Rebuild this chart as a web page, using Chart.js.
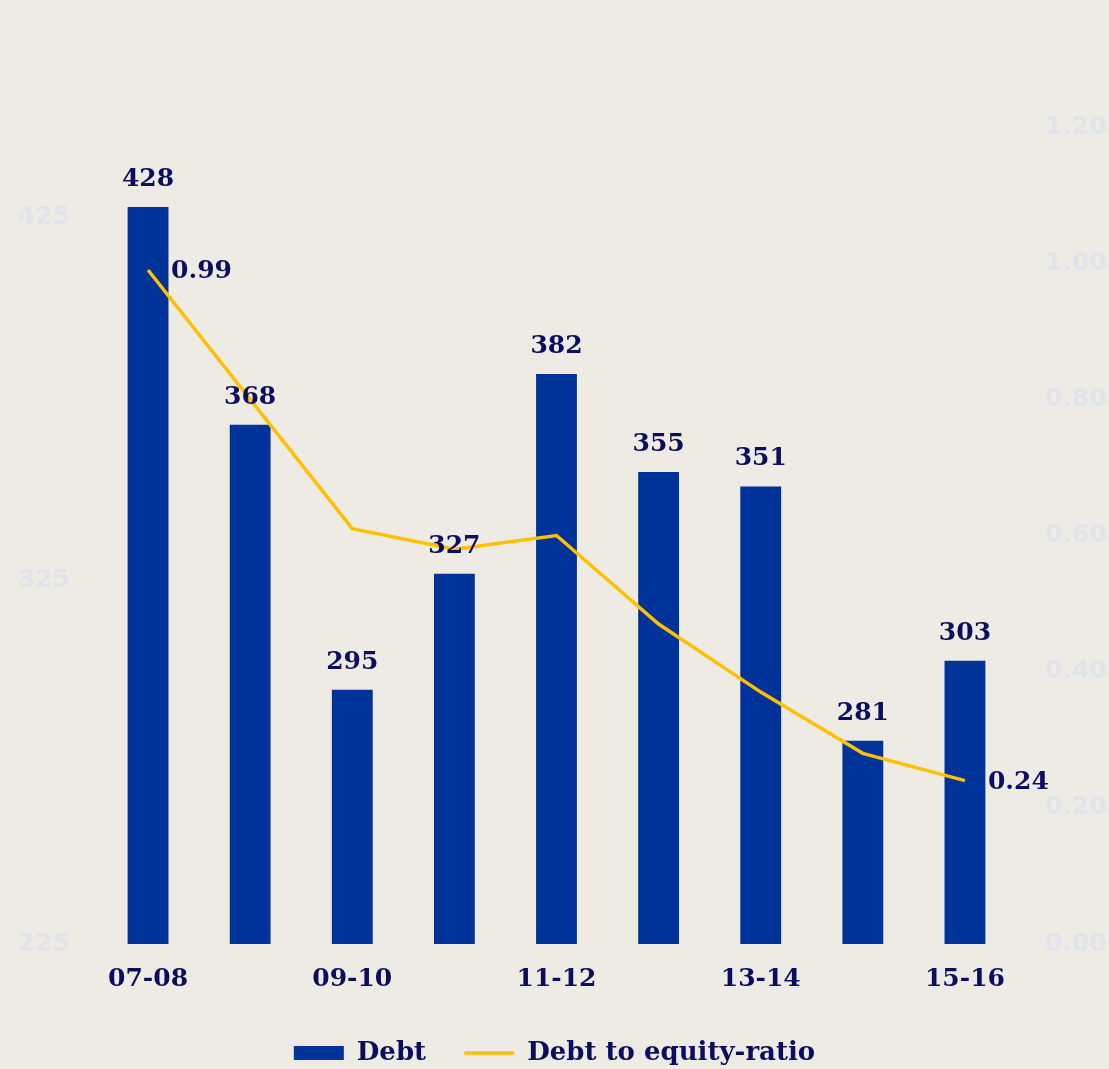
<!DOCTYPE html>
<html>
<head>
<meta charset="utf-8">
<script src="https://cdn.jsdelivr.net/npm/chart.js@4.4.1/dist/chart.umd.min.js"></script>
<style>
  html, body { margin: 0; padding: 0; background: #eeebe5; }
  #wrap { width: 1109px; height: 1069px; position: relative; }
</style>
</head>
<body>
<div id="wrap"><canvas id="grafico"></canvas></div>
<script>
// dados do gráfico
const anos = ["07-08", "08-09", "09-10", "10-11", "11-12", "12-13", "13-14", "14-15", "15-16"];
const divida = [428, 368, 295, 327, 382, 355, 351, 281, 303];
const razaoDividaPatrimonio = [0.99, 0.80, 0.61, 0.58, 0.60, 0.47, 0.37, 0.28, 0.24];
const ticksEsquerda = [225, 325, 425];
const ticksDireita = [0, 0.2, 0.4, 0.6, 0.8, 1.0, 1.2];

const azul = "#003399";
const amarelo = "#ffc000";
const marinho = "#0d0d5e";
const fonteSerif = "'DejaVu Serif', serif";

// rótulos de valor sobre as barras e nas pontas da linha
const rotulos = {
  id: "rotulos",
  afterDatasetsDraw(chart) {
    const ctx = chart.ctx;
    ctx.save();
    ctx.fillStyle = marinho;
    ctx.font = "bold 25px " + fonteSerif;

    const barras = chart.getDatasetMeta(0).data;
    ctx.textAlign = "center";
    ctx.textBaseline = "bottom";
    barras.forEach((barra, i) => {
      ctx.fillText(String(divida[i]), barra.x, barra.y - 15);
    });

    const pontos = chart.getDatasetMeta(1).data;
    ctx.textAlign = "left";
    ctx.textBaseline = "middle";
    [0, pontos.length - 1].forEach((i) => {
      ctx.fillText(razaoDividaPatrimonio[i].toFixed(2), pontos[i].x + 23, pontos[i].y + 2);
    });
    ctx.restore();
  },
};

const grafico = new Chart(document.getElementById("grafico"), {
  type: "bar",
  data: {
    labels: anos,
    datasets: [
      {
        label: "Debt",
        data: divida,
        backgroundColor: azul,
        barPercentage: 0.4,
        categoryPercentage: 1,
        yAxisID: "y",
        order: 2,
      },
      {
        type: "line",
        label: "Debt to equity-ratio",
        data: razaoDividaPatrimonio,
        borderColor: amarelo,
        borderWidth: 3.5,
        pointRadius: 0,
        tension: 0,
        yAxisID: "y1",
        order: 1,
      },
    ],
  },
  options: {
    responsive: true,
    maintainAspectRatio: false,
    animation: false,
    layout: { padding: { top: 127, bottom: -7, left: 0, right: 0 } },
    plugins: {
      tooltip: { enabled: false },
      legend: {
        position: "bottom",
        labels: {
          color: marinho,
          font: { family: fonteSerif, weight: "bold", size: 26 },
          usePointStyle: true,
          pointStyleWidth: 50,
          boxHeight: 14,
          padding: 11,
          generateLabels: () => [
            { text: "Debt   ", fontColor: marinho, fillStyle: azul, strokeStyle: azul, lineWidth: 0, pointStyle: "rect", datasetIndex: 0 },
            { text: "Debt to equity-ratio", fontColor: marinho, fillStyle: amarelo, strokeStyle: amarelo, lineWidth: 3.5, pointStyle: "line", datasetIndex: 1 },
          ],
        },
      },
    },
    scales: {
      x: {
        grid: { display: false },
        border: { display: false },
        afterFit: (eixo) => { eixo.height = 85; },
        ticks: {
          color: marinho,
          font: { family: fonteSerif, weight: "bold", size: 25 },
          autoSkip: false,
          maxRotation: 0,
          padding: 12,
          callback: (v, i) => (i % 2 === 0 ? anos[i] : ""),
        },
      },
      y: {
        position: "left",
        min: 225,
        max: 450,
        grid: { display: false },
        border: { display: false },
        afterBuildTicks: (eixo) => {
          eixo.ticks = ticksEsquerda.map((v) => ({ value: v }));
        },
        afterFit: (eixo) => { eixo.width = 97; },
        ticks: {
          color: "#e0e3e9",
          font: { family: "'DejaVu Sans', sans-serif", weight: "bold", size: 25 },
          padding: 19,
        },
      },
      y1: {
        position: "right",
        min: 0,
        max: 1.2,
        grid: { display: false },
        border: { display: false },
        afterBuildTicks: (eixo) => {
          eixo.ticks = ticksDireita.map((v) => ({ value: v }));
        },
        afterFit: (eixo) => { eixo.width = 93; },
        ticks: {
          color: "#e0e3e9",
          font: { family: "'DejaVu Sans', sans-serif", weight: "bold", size: 25 },
          padding: 21,
          callback: (v) => Number(v).toFixed(2),
        },
      },
    },
  },
  plugins: [rotulos],
});
</script>
</body>
</html>
